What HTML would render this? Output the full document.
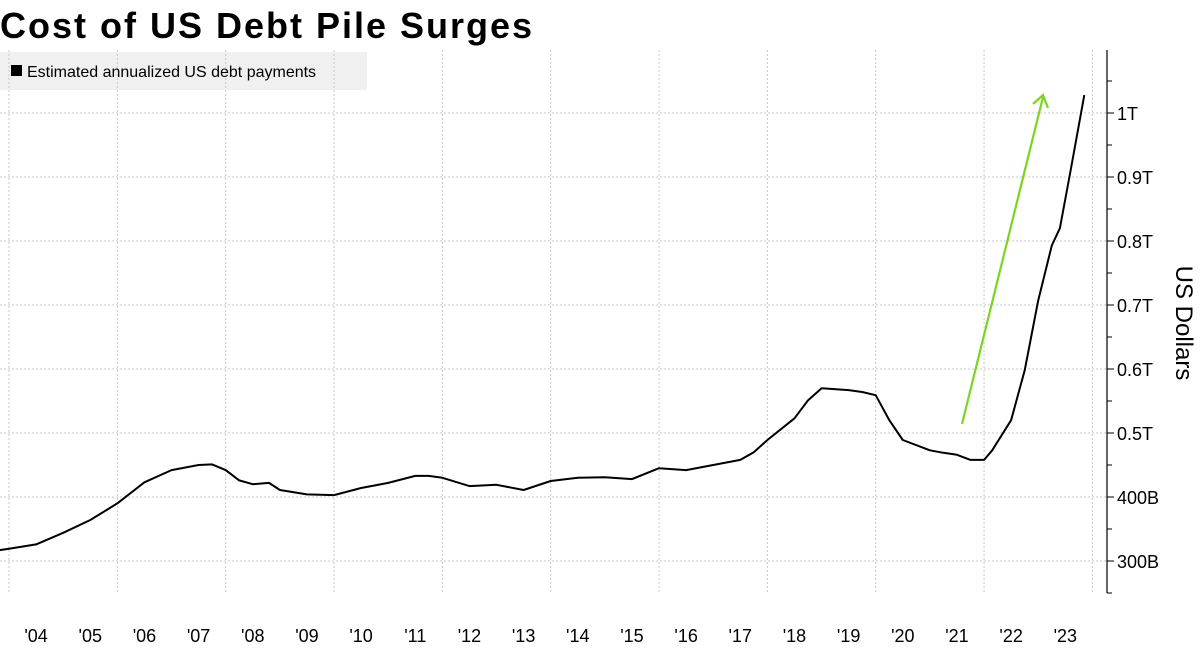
<!DOCTYPE html>
<html><head><meta charset="utf-8"><style>
body{margin:0;background:#fff;width:1200px;height:647px;overflow:hidden;font-family:"Liberation Sans",sans-serif}
</style></head><body>
<svg width="1200" height="647" xmlns="http://www.w3.org/2000/svg">
<text x="0" y="38" font-family="Liberation Sans" font-weight="bold" font-size="36" letter-spacing="2" fill="#000">Cost of US Debt Pile Surges</text>
<g>
<rect x="0" y="52" width="367" height="38" fill="#f0f0f0" rx="2"/>
<rect x="11" y="65" width="11" height="11" fill="#000"/>
<text x="27" y="77" font-size="16" fill="#000">Estimated annualized US debt payments</text>
</g>
<g id="grid"></g><g id="axis"></g><g id="series"></g>
<g stroke="#7ed321" stroke-width="2.2" fill="none">
<line x1="962" y1="424" x2="1043" y2="97"/>
<polyline points="1033,104 1043,95 1048,108"/>
</g>
<text transform="translate(1176,323) rotate(90)" text-anchor="middle" font-size="24" fill="#000">US Dollars</text>
</svg>
<script>
const years=['\'04','\'05','\'06','\'07','\'08','\'09','\'10','\'11','\'12','\'13','\'14','\'15','\'16','\'17','\'18','\'19','\'20','\'21','\'22','\'23'];
const yTicks=[300,400,500,600,700,800,900,1000];
const yTickLabels=['300B','400B','0.5T','0.6T','0.7T','0.8T','0.9T','1T'];
const dates=[2003.83,2004,2004.5,2005,2005.5,2006,2006.5,2007,2007.5,2007.75,2008,2008.25,2008.5,2008.8,2009,2009.5,2010,2010.5,2011,2011.5,2011.75,2012,2012.5,2013,2013.5,2014,2014.5,2015,2015.5,2016,2016.5,2017,2017.5,2017.75,2018,2018.5,2018.75,2019,2019.5,2019.75,2020,2020.25,2020.5,2021,2021.25,2021.5,2021.75,2022,2022.15,2022.5,2022.75,2023,2023.25,2023.4,2023.6,2023.85];
const values=[317,319,326,344,364,390,423,442,450,451,442,426,420,422,411,404,403,414,422,433,433,430,417,419,411,425,430,431,428,445,442,450,458,470,489,523,551,570,567,564,559,520,489,473,469,466,458,458,473,520,598,707,793,820,911,1028];
const NS='http://www.w3.org/2000/svg';
const X=t=>9+(t-2004)*54.17;
const Y=v=>561-(v-300)*0.64;
function mk(tag,attrs,parent){const e=document.createElementNS(NS,tag);for(const k in attrs)e.setAttribute(k,attrs[k]);document.getElementById(parent).appendChild(e);return e;}
for(let yr=2004;yr<=2024;yr+=2){const l=mk('line',{x1:X(yr),x2:X(yr),y1:50,y2:593,stroke:'#c8c8c8','stroke-dasharray':'2,2'},'grid');

}
yTicks.forEach((v,i)=>{const l=mk('line',{x1:0,x2:1107,y1:Y(v),y2:Y(v),stroke:'#c8c8c8','stroke-dasharray':'2,2'},'grid');


const t=mk('line',{x1:1107,x2:1114,y1:Y(v),y2:Y(v),stroke:'#000'},'axis');


const m=mk('line',{x1:1107,x2:1112,y1:Y(v+50),y2:Y(v+50),stroke:'#000'},'axis');


const tx=mk('text',{x:1117,y:Y(v)+7,'font-size':18,fill:'#000'},'axis');tx.textContent=yTickLabels[i];

});
const m0=mk('line',{x1:1107,x2:1112,y1:Y(250),y2:Y(250),stroke:'#000'},'axis');


const ax=mk('line',{x1:1107,x2:1107,y1:50,y2:593,stroke:'#000','stroke-width':1.2},'axis');


years.forEach((s,i)=>{const t=mk('text',{x:X(2004+i+0.5),y:642,'font-size':18,'text-anchor':'middle',fill:'#000'},'axis');t.textContent=s;

});
const p=mk('path',{d:dates.map((d,i)=>(i?'L':'M')+X(d).toFixed(1)+','+Y(values[i]).toFixed(1)).join(''),fill:'none',stroke:'#000','stroke-width':2,'stroke-linejoin':'round'},'series');


</script>
</body></html>
